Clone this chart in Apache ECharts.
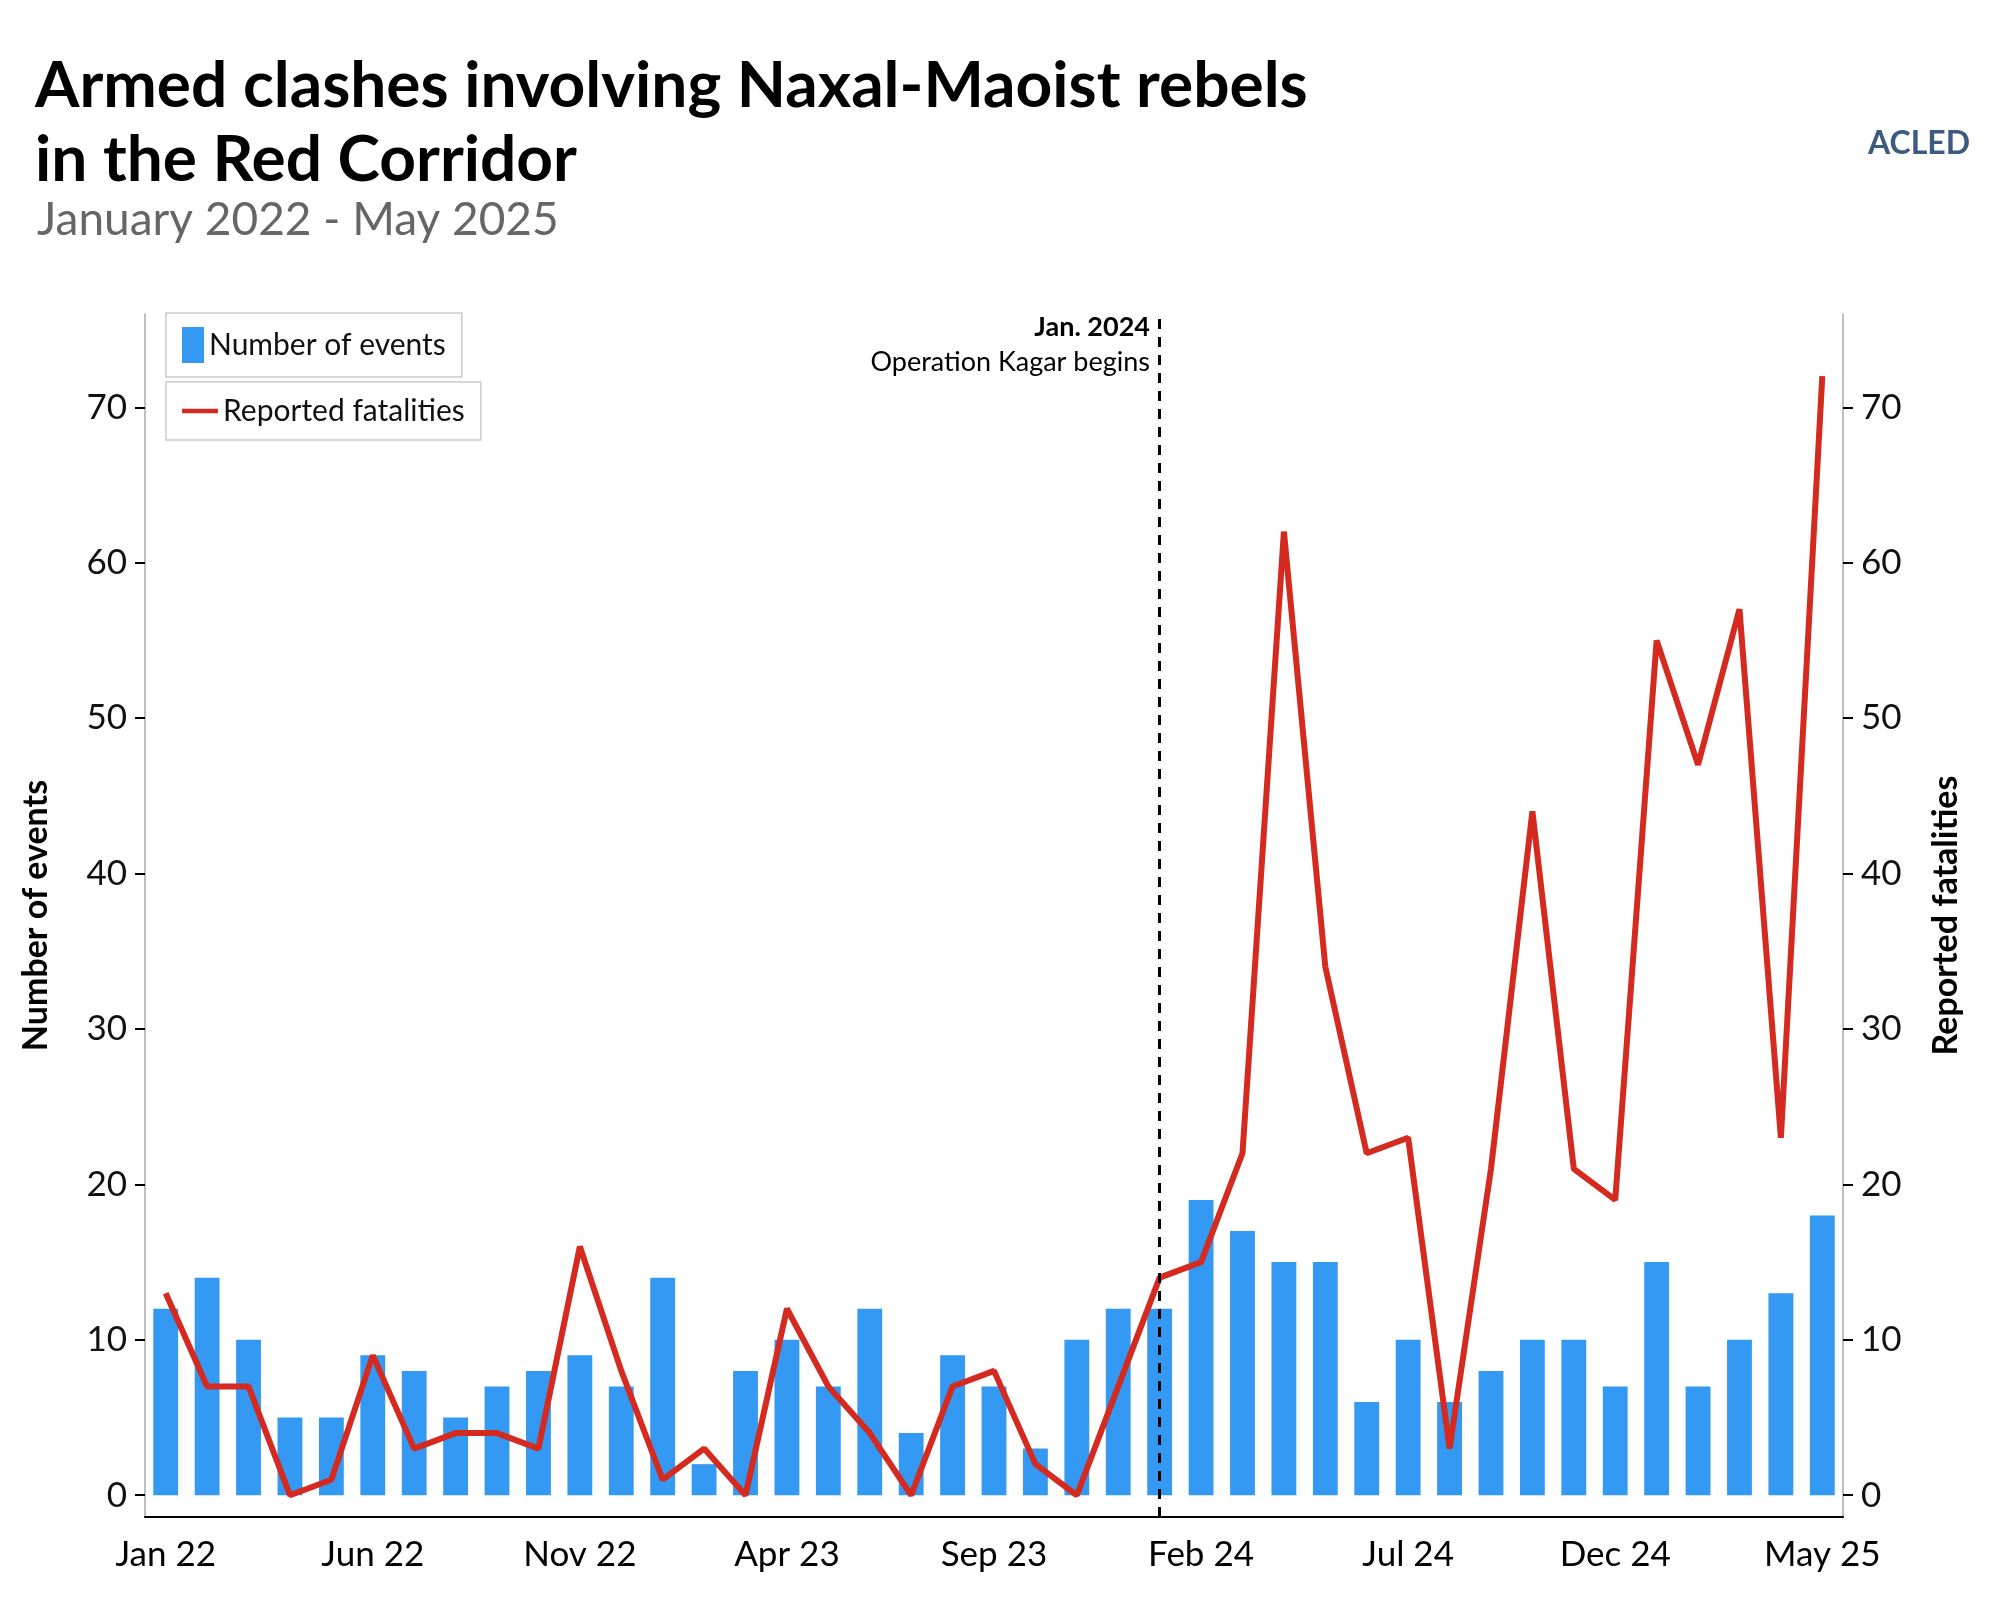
<!DOCTYPE html>
<html><head><meta charset="utf-8">
<script src="https://cdn.jsdelivr.net/npm/echarts@6/dist/echarts.min.js"></script>
<style>html,body{margin:0;padding:0;background:#fff}#c{width:2000px;height:1600px}</style>
</head><body><div id="c"></div>
<script>
const months = ['Jan 22','Feb 22','Mar 22','Apr 22','May 22','Jun 22','Jul 22','Aug 22','Sep 22','Oct 22','Nov 22','Dec 22',
'Jan 23','Feb 23','Mar 23','Apr 23','May 23','Jun 23','Jul 23','Aug 23','Sep 23','Oct 23','Nov 23','Dec 23',
'Jan 24','Feb 24','Mar 24','Apr 24','May 24','Jun 24','Jul 24','Aug 24','Sep 24','Oct 24','Nov 24','Dec 24',
'Jan 25','Feb 25','Mar 25','Apr 25','May 25'];
const events = [12,14,10,5,5,9,8,5,7,8,9,7,14,2,8,10,7,12,4,9,7,3,10,12,12,19,17,15,15,6,10,6,8,10,10,7,15,7,10,13,18];
const fatalities = [13,7,7,0,1,9,3,4,4,3,16,8,1,3,0,12,7,4,0,7,8,2,0,7,14,15,22,62,34,22,23,3,21,44,21,19,55,47,57,23,72];
const shownLabels = ['Jan 22','Jun 22','Nov 22','Apr 23','Sep 23','Feb 24','Jul 24','Dec 24','May 25'];
const yTicks = [0,10,20,30,40,50,60,70];
const font = 'Lato, "Noto Sans", sans-serif';
const chart = echarts.init(document.getElementById('c'));
const yAxisBase = (name, gap) => ({type:'value',min:-1.4,max:76,name:name,nameLocation:'middle',nameGap:gap,
    nameTextStyle:{fontSize:34,color:'#000',fontWeight:'bold'},axisLine:{show:true,lineStyle:{color:'#aaa',width:1.5}},
    axisTick:{show:true,length:10,customValues:yTicks,lineStyle:{color:'#000',width:2}},
    axisLabel:{fontSize:35,color:'#111',margin:18,customValues:yTicks},splitLine:{show:false}});
chart.setOption({
  animation:false,
  textStyle:{fontFamily:font},
  title:[{text:'Armed clashes involving Naxal-Maoist rebels\nin the Red Corridor',left:30,top:44,
    textStyle:{fontSize:64,fontWeight:'bold',color:'#000',lineHeight:74,fontFamily:font}},
    {text:'January 2022 - May 2025',left:32,top:192,textStyle:{fontSize:46,color:'#666',fontWeight:'normal',fontFamily:font}}],
  legend:[{left:166,top:313,borderColor:'#ccc',borderWidth:1.5,padding:[14,16],
    textStyle:{fontSize:30,color:'#111'},itemWidth:22,itemHeight:36,
    data:[{name:'Number of events',icon:'rect',itemStyle:{color:'#3399f3'}}]},
    {left:166,top:382,borderColor:'#ccc',borderWidth:1.5,padding:[14,16],
    textStyle:{fontSize:30,color:'#111'},itemWidth:36,itemHeight:28,
    data:[{name:'Reported fatalities',icon:'path://M0,12h40v5h-40z'}]}],
  grid:{left:145,right:157,top:314,bottom:83,containLabel:false},
  xAxis:{type:'category',data:months,boundaryGap:true,
    axisLine:{onZero:false,lineStyle:{color:'#000',width:2}},
    axisTick:{alignWithLabel:true,length:10,lineStyle:{color:'#000',width:2},interval:(i,v)=>shownLabels.includes(v)},
    axisLabel:{fontSize:35,color:'#000',margin:20,interval:(i,v)=>shownLabels.includes(v)}},
  yAxis:[yAxisBase('Number of events',92), yAxisBase('Reported fatalities',86)],
  series:[{name:'Number of events',type:'bar',data:events,barWidth:'60%',itemStyle:{color:'#3399f3'},
      markLine:{silent:true,symbol:'none',label:{show:false},lineStyle:{color:'#000',type:[10,8],width:3},data:[{xAxis:'Jan 24'}]}},
    {name:'Reported fatalities',type:'line',yAxisIndex:1,data:fatalities,symbol:'none',lineStyle:{color:'#d42a20',width:6},itemStyle:{color:'#d42a20'}}],
  graphic:[{type:'text',right:850,top:314,style:{text:'Jan. 2024',font:'bold 27px '+font,fill:'#000',textAlign:'right'}},
    {type:'text',right:850,top:349,style:{text:'Operation Kagar begins',font:'27px '+font,fill:'#000',textAlign:'right'}},
    {type:'text',right:30,top:128,style:{text:'ACLED',font:'bold 32px '+font,fill:'#3d5a80'}}]
});
</script></body></html>
